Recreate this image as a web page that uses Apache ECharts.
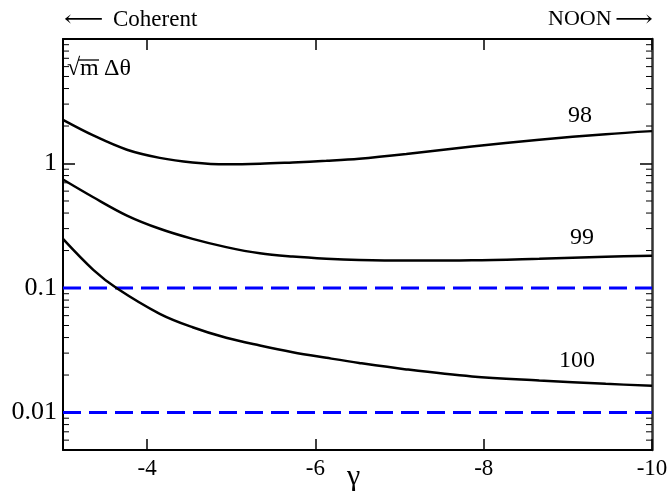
<!DOCTYPE html>
<html>
<head>
<meta charset="utf-8">
<script src="https://cdn.jsdelivr.net/npm/echarts@6/dist/echarts.min.js"></script>
<style>
  html, body { margin: 0; padding: 0; background: #fff; }
  #chart { width: 669px; height: 494px; }
</style>
</head>
<body>
<div id="chart"></div>
<script>
// gamma values (x axis, reversed)
const gamma = [-3.0, -3.36, -3.76, -4.15, -4.54, -4.94, -5.34, -5.73, -6.13, -6.52, -7.08, -7.86, -8.66, -9.45, -10.0]
const gamma100 = [-3.0, -3.36, -3.64, -4.15, -4.54, -4.94, -5.34, -5.73, -6.13, -6.52, -7.08, -7.86, -8.66, -9.45, -10.0]
// sqrt(m) delta theta curves
const curve98 = [2.24, 1.68, 1.29, 1.11, 1.02, 0.985, 0.995, 1.02, 1.05, 1.09, 1.19, 1.37, 1.55, 1.72, 1.82]
const curve99 = [0.744, 0.536, 0.382, 0.299, 0.248, 0.213, 0.19, 0.179, 0.172, 0.168, 0.166, 0.167, 0.172, 0.178, 0.182]
const curve100 = [0.248, 0.14, 0.0996, 0.0621, 0.0484, 0.0398, 0.0345, 0.0305, 0.0275, 0.025, 0.0222, 0.0195, 0.0181, 0.017, 0.0164]
// reference levels
const refLevels = [0.1, 0.01]
// major tick labels on the y axis
const yLabels = [0.01, 0.1, 1]
// minor ticks of the log axis
const minorTicks = []
;[0.001, 0.01, 0.1, 1].forEach(d => {
  for (let k = 2; k <= 9; k++) minorTicks.push(+(d * k).toPrecision(3))
})

const font = 'Liberation Serif'
const chart = echarts.init(document.getElementById('chart'))

function pairs(xs, ys) {
  return xs.map((x, i) => [x, ys[i]])
}

const frameLine = { show: true, lineStyle: { color: '#000', width: 2 } }
const curveStyle = { color: '#000', width: 2.5 }

chart.setOption({
  animation: false,
  grid: { left: 63, right: 17, top: 39, bottom: 44, outerBoundsMode: 'none' },
  xAxis: [
    {
      type: 'value', min: -10, max: -3, interval: 2, inverse: true,
      axisLine: frameLine,
      axisTick: { inside: true, length: 11, lineStyle: { color: '#000', width: 1.5 } },
      axisLabel: {
        fontFamily: font, fontSize: 23, color: '#000', margin: 7,
        formatter: v => (v === -3 ? '' : String(v))
      },
      splitLine: { show: false }
    },
    {
      type: 'value', min: -10, max: -3, interval: 2, inverse: true, position: 'top',
      axisLine: frameLine,
      axisTick: { inside: true, length: 11, lineStyle: { color: '#000', width: 1.5 } },
      axisLabel: { show: false },
      splitLine: { show: false }
    }
  ],
  yAxis: [
    {
      type: 'log', logBase: 10, min: 0.005, max: 10,
      axisLine: frameLine,
      axisTick: { inside: true, length: 12, lineStyle: { color: '#000', width: 1.5 } },
      axisLabel: {
        fontFamily: font, fontSize: 26, color: '#000', margin: 6,
        formatter: v => {
          const hit = yLabels.find(t => Math.abs(t - v) / t < 1e-6)
          return hit === undefined ? '' : String(hit)
        }
      },
      splitLine: { show: false }
    },
    {
      type: 'log', logBase: 10, min: 0.005, max: 10, position: 'right',
      axisLine: { show: true, lineStyle: { color: '#333', width: 2.5 } },
      axisTick: { inside: true, length: 12, lineStyle: { color: '#000', width: 1.5 } },
      axisLabel: { show: false },
      splitLine: { show: false }
    }
  ],
  graphic: [
    { type: 'text', left: 64, top: 9, scaleX: 1.25, style: { text: '⟵', font: '22px "DejaVu Serif"', fill: '#000' } },
    { type: 'text', left: 113, top: 8, style: { text: 'Coherent', font: '23px "Liberation Serif"', fill: '#000' } },
    { type: 'text', left: 548, top: 8, style: { text: 'NOON', font: '22px "Liberation Serif"', fill: '#000' } },
    { type: 'text', left: 615, top: 9, scaleX: 1.2, style: { text: '⟶', font: '22px "DejaVu Serif"', fill: '#000' } },
    // axis title
    { type: 'text', left: 347, top: 462, style: { text: 'γ', font: '30px "Liberation Serif"', fill: '#000' } },
    // sqrt(m) delta theta label
    { type: 'text', left: 67, top: 57, style: { text: '√', font: '24px "Liberation Serif"', fill: '#000' } },
    { type: 'text', left: 80, top: 57, style: { text: 'm', font: '24px "Liberation Serif"', fill: '#000' } },
    { type: 'line', shape: { x1: 78, y1: 60, x2: 99, y2: 60 }, style: { stroke: '#000', lineWidth: 1.3 } },
    { type: 'text', left: 104, top: 57, style: { text: 'Δθ', font: '24px "Liberation Serif"', fill: '#000' } },
    // curve labels
    { type: 'text', left: 568, top: 104, style: { text: '98', font: '24px "Liberation Serif"', fill: '#000' } },
    { type: 'text', left: 570, top: 226, style: { text: '99', font: '24px "Liberation Serif"', fill: '#000' } },
    { type: 'text', left: 559, top: 349, style: { text: '100', font: '24px "Liberation Serif"', fill: '#000' } }
  ],
  series: [
    {
      type: 'custom',
      xAxisIndex: 0, yAxisIndex: 0,
      data: minorTicks.filter(v => v >= 0.005 && v <= 10).map(v => [-3, v]),
      silent: true,
      renderItem(params, api) {
        const cs = params.coordSys
        const y = api.coord([-3, api.value(1)])[1]
        const style = { stroke: '#000', lineWidth: 1 }
        return {
          type: 'group',
          children: [
            { type: 'line', shape: { x1: cs.x, y1: y, x2: cs.x + 6, y2: y }, style },
            { type: 'line', shape: { x1: cs.x + cs.width - 6, y1: y, x2: cs.x + cs.width, y2: y }, style }
          ]
        }
      }
    },
    ...refLevels.map(level => ({
      type: 'line',
      data: [[-3, level], [-10, level]],
      symbol: 'none',
      lineStyle: { color: '#0000ff', width: 3, type: [18, 8] }
    })),
    {
      name: '98', type: 'line', data: pairs(gamma, curve98), smooth: 0.35,
      symbol: 'none', lineStyle: curveStyle
    },
    {
      name: '99', type: 'line', data: pairs(gamma, curve99), smooth: 0.35,
      symbol: 'none', lineStyle: curveStyle
    },
    {
      name: '100', type: 'line', data: pairs(gamma100, curve100), smooth: 0.35,
      symbol: 'none', lineStyle: curveStyle
    }
  ]
})
</script>
</body>
</html>
